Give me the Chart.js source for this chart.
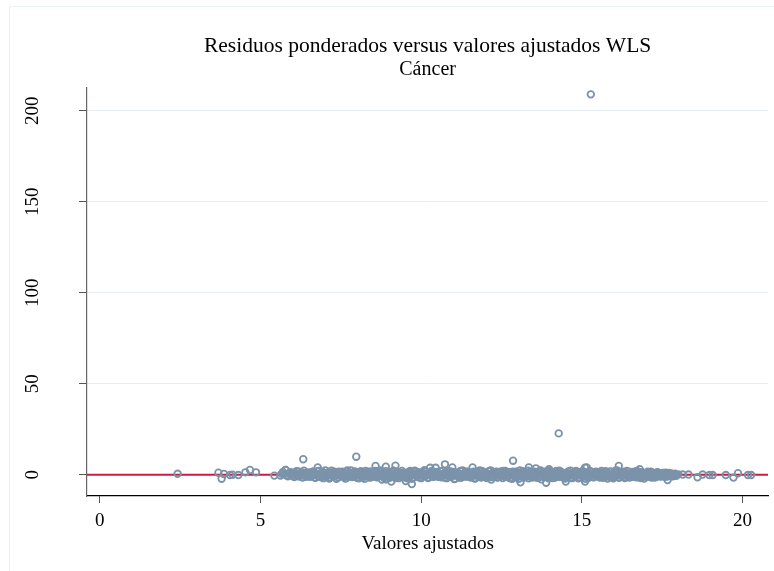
<!DOCTYPE html>
<html>
<head>
<meta charset="utf-8">
<script src="https://cdn.jsdelivr.net/npm/chart.js@4/dist/chart.umd.min.js"></script>
<style>
  html, body { margin: 0; padding: 0; background: #fff; }
  #wrap { width: 774px; height: 571px; }
</style>
</head>
<body>
<div id="wrap"><canvas id="residChart" width="774" height="571"></canvas></div>
<script>
/* Texts */
const TITLE = 'Residuos ponderados versus valores ajustados WLS';
const SUBTITLE = 'Cáncer';
const X_TITLE = 'Valores ajustados';

/* Axis ticks */
const xTicks = [0, 5, 10, 15, 20];
const yTicks = [0, 50, 100, 150, 200];

/* Reference line (yline 0) */
const refLineX = [-0.4, 20.8];
const refLineY = [0, 0];

/* Sparse points left of the main band */
const leftTailX = [2.42, 3.69, 3.79, 3.86, 4.05, 4.13, 4.31, 4.53, 4.67, 4.86, 5.43];
const leftTailY = [0.5, 1.1, -2.2, 0.4, -0.2, 0.0, -0.2, 1.3, 2.6, 1.3, -0.5];

/* Start of the band */
const bandStartX = [5.62, 5.66, 5.70, 5.74, 5.78, 5.81, 5.85, 5.90, 5.93, 5.96, 6.00, 6.02, 6.05, 6.08, 6.10, 6.12, 6.14, 6.18, 6.20,
                    6.22, 6.25, 6.27, 6.29, 6.31, 6.33, 6.35, 6.38, 6.40, 6.42, 6.44, 6.47, 6.49];
const bandStartY = [-0.4, 0.6, 1.5, 0.3, 2.6, -0.3, -0.9, 0.8, 1.4, -0.2, -0.7, 1.1, -1.3, 0.9, 0.5, 1.9, -0.6, 1.8, -1.0,
                    -0.1, 0.3, 0.9, 1.2, -1.6, -0.4, 2.2, 1.0, 0.2, -1.2, -0.8, 1.3, 0.1];

/* Main band of residuals, first group */
const bandX = [
  6.51, 6.55, 6.58, 6.62, 6.66, 6.71, 6.74, 6.78, 6.83, 6.86, 6.90, 6.95, 6.98, 7.02, 7.06, 7.11, 7.14, 7.18, 7.23, 7.26, 7.30, 7.35, 7.38, 7.42, 7.46,
  7.50, 7.55, 7.58, 7.62, 7.67, 7.70, 7.74, 7.79, 7.82, 7.86, 7.91, 7.94, 7.98, 8.03, 8.06, 8.10, 8.15, 8.18, 8.22, 8.27, 8.30, 8.34, 8.39, 8.42, 8.46,
  8.51, 8.54, 8.58, 8.63, 8.66, 8.70, 8.75, 8.78, 8.82, 8.87, 8.90, 8.94, 8.99, 9.02, 9.06, 9.11, 9.14, 9.18, 9.23, 9.26, 9.30, 9.35, 9.38, 9.42, 9.47,
  9.50, 9.54, 9.59, 9.62, 9.66, 9.71, 9.74, 9.78, 9.83, 9.86, 9.90, 9.95, 9.98, 10.02, 10.07, 10.10, 10.14, 10.19, 10.22, 10.26, 10.31, 10.34, 10.38, 10.43, 10.46,
  10.50, 10.55, 10.58, 10.62, 10.67, 10.70, 10.74, 10.79, 10.82, 10.86, 10.91, 10.94, 10.98, 11.03, 11.06, 11.10, 11.15, 11.18, 11.22, 11.27, 11.30, 11.34, 11.39, 11.42, 11.46,
  11.51, 11.54, 11.58, 11.63, 11.66, 11.70, 11.75, 11.78, 11.82, 11.87, 11.90, 11.94, 11.99, 12.02, 12.06, 12.11, 12.14, 12.18, 12.23, 12.26, 12.30, 12.35, 12.38, 12.42, 12.47,
  12.50, 12.54, 12.59, 12.62, 12.66, 12.71, 12.74, 12.78, 12.83, 12.86, 12.90, 12.95, 12.98, 13.02, 13.07, 13.10, 13.14, 13.19, 13.22, 13.26, 13.31, 13.34, 13.38, 13.43, 13.46,
  13.50, 13.55, 13.58, 13.62, 13.67, 13.70, 13.74, 13.79, 13.82, 13.86, 13.91, 13.94, 13.98, 14.03, 14.06, 14.10, 14.15, 14.18, 14.22, 14.27, 14.30, 14.34, 14.39, 14.42, 14.46,
  14.51, 14.54, 14.58, 14.63, 14.66, 14.70, 14.75, 14.78, 14.82, 14.87, 14.90, 14.94, 14.99, 15.02, 15.06, 15.11, 15.14, 15.18, 15.23, 15.26, 15.30, 15.35, 15.38, 15.42, 15.47,
  15.50, 15.54, 15.59, 15.62, 15.66, 15.71, 15.74, 15.78, 15.83, 15.86, 15.90, 15.95, 15.98, 16.02, 16.07, 16.10, 16.14, 16.19, 16.22, 16.26, 16.31, 16.34, 16.38, 16.43, 16.46,
  16.50, 16.55, 16.58, 16.62, 16.67, 16.70, 16.74, 16.79, 16.82, 16.86, 16.91, 16.94, 16.98, 17.03, 17.06, 17.10, 17.15, 17.18, 17.22, 17.27, 17.30, 17.34, 17.39, 17.42, 17.46
];
const bandY = [
  0.6, -1.2, 1.4, -0.3, 0.9, -1.7, 0.2, 1.9, -0.8, 0.4, -1.4, 1.1, -0.1, 2.4, -0.9, 0.7, -2.1, 1.3, 0.0, -1.0, 1.7, -0.5, 0.8, -1.5, 1.2,
  -0.2, 1.6, -1.1, 0.5, -1.8, 2.3, 0.3, -0.7, 1.0, -1.3, 0.1, 1.8, -0.6, 0.9, -2.0, 1.4, -0.4, 0.7, -1.2, 2.0, -0.1, 1.1, -1.6, 0.4, -0.8,
  1.3, -0.5, 2.1, -1.4, 0.6, -0.2, 1.5, -2.6, 0.8, -0.9, 1.9, -0.3, 0.4, -1.7, 1.2, -0.6, 2.2, -1.1, 0.0, 1.6, -1.9, 0.7, -0.4, 1.0, -1.3,
  0.3, -1.6, 1.2, -0.7, 2.0, -2.3, 0.5, -0.1, 1.7, -1.0, 0.9, -1.5, 0.2, 1.4, -0.8, 2.5, -0.3, 0.6, -1.8, 1.1, -0.5, 1.9, -1.2, 0.4, -0.2,
  1.5, -0.9, 0.3, -1.4, 2.2, -0.4, 1.0, -1.9, 0.6, -0.2, 1.8, -1.1, 0.1, -2.4, 1.3, -0.6, 0.8, -1.5, 2.0, -0.3, 0.5, -1.0, 1.6, -0.7, 0.2,
  -1.3, 0.9, -0.4, 1.7, -2.0, 0.4, 1.2, -0.8, 2.3, -1.6, 0.0, 1.4, -0.5, 0.7, -1.2, 1.9, -0.2, -2.7, 1.1, -0.9, 0.6, 1.6, -1.4, 0.3, -0.6,
  1.0, -1.8, 0.5, 2.1, -0.3, -1.1, 1.4, 0.2, -2.2, 0.8, -0.6, 1.7, -1.4, 0.3, 2.4, -0.9, 0.6, -1.6, 1.2, -0.1, 0.9, -2.0, 1.5, -0.4, 0.7,
  -0.8, 1.3, -1.5, 0.4, 1.9, -0.2, -2.5, 0.9, -0.7, 1.6, -1.2, 0.1, 2.0, -0.5, 1.1, -1.8, 0.6, -0.3, 1.4, -1.0, 2.2, -0.6, 0.3, -1.4, 0.8,
  0.5, -1.1, 1.8, -0.4, 0.2, -1.9, 1.3, -0.8, 2.1, -0.2, 0.7, -1.5, 1.0, -0.6, 1.6, -2.3, 0.4, 1.2, -0.9, 0.0, 1.7, -1.3, 0.6, -0.5, 1.1,
  -0.3, 1.4, -1.0, 0.8, -1.7, 0.3, 1.9, -0.6, 0.5, -1.2, 1.5, -0.1, -2.0, 1.0, -0.7, 2.3, -1.4, 0.2, 0.9, -0.4, 1.3, -1.8, 0.6, -0.9, 1.6,
  0.4, -1.3, 1.1, -0.5, 1.8, -1.0, 0.2, -1.6, 1.4, -0.3, 0.7, -2.1, 1.0, -0.8, 0.5, -1.2, 1.7, -0.4, 0.9, -1.5, 0.3, 1.2, -0.6, 0.8, -1.0
];

/* Main band of residuals, second group */
const band2X = [
  6.53, 6.57, 6.60, 6.64, 6.69, 6.72, 6.76, 6.81, 6.84, 6.88, 6.93, 6.96, 7.00, 7.04, 7.09, 7.12, 7.16, 7.21, 7.24, 7.28, 7.33, 7.36, 7.40, 7.44, 7.48,
  7.52, 7.57, 7.60, 7.64, 7.69, 7.72, 7.76, 7.81, 7.84, 7.88, 7.93, 7.96, 8.00, 8.05, 8.08, 8.12, 8.17, 8.20, 8.24, 8.29, 8.32, 8.36, 8.41, 8.44, 8.48,
  8.53, 8.56, 8.60, 8.65, 8.68, 8.72, 8.77, 8.80, 8.84, 8.89, 8.92, 8.96, 9.01, 9.04, 9.08, 9.13, 9.16, 9.20, 9.25, 9.28, 9.32, 9.37, 9.40, 9.44, 9.49,
  9.52, 9.56, 9.61, 9.64, 9.68, 9.73, 9.76, 9.80, 9.85, 9.88, 9.92, 9.97, 10.00, 10.04, 10.09, 10.12, 10.16, 10.21, 10.24, 10.28, 10.33, 10.36, 10.40, 10.45, 10.48,
  10.52, 10.57, 10.60, 10.64, 10.69, 10.72, 10.76, 10.81, 10.84, 10.88, 10.93, 10.96, 11.00, 11.05, 11.08, 11.12, 11.17, 11.20, 11.24, 11.29, 11.32, 11.36, 11.41, 11.44, 11.48,
  11.53, 11.56, 11.60, 11.65, 11.68, 11.72, 11.77, 11.80, 11.84, 11.89, 11.92, 11.96, 12.01, 12.04, 12.08, 12.13, 12.16, 12.20, 12.25, 12.28, 12.32, 12.37, 12.40, 12.44, 12.49,
  12.52, 12.56, 12.61, 12.64, 12.68, 12.73, 12.76, 12.80, 12.85, 12.88, 12.92, 12.97, 13.00, 13.04, 13.09, 13.12, 13.16, 13.21, 13.24, 13.28, 13.33, 13.36, 13.40, 13.45, 13.48,
  13.52, 13.57, 13.60, 13.64, 13.69, 13.72, 13.76, 13.81, 13.84, 13.88, 13.93, 13.96, 14.00, 14.05, 14.08, 14.12, 14.17, 14.20, 14.24, 14.29, 14.32, 14.36, 14.41, 14.44, 14.48,
  14.53, 14.56, 14.60, 14.65, 14.68, 14.72, 14.77, 14.80, 14.84, 14.89, 14.92, 14.96, 15.01, 15.04, 15.08, 15.13, 15.16, 15.20, 15.25, 15.28, 15.32, 15.37, 15.40, 15.44, 15.49,
  15.52, 15.56, 15.61, 15.64, 15.68, 15.73, 15.76, 15.80, 15.85, 15.88, 15.92, 15.97, 16.00, 16.04, 16.09, 16.12, 16.16, 16.21, 16.24, 16.28, 16.33, 16.36, 16.40, 16.45, 16.48,
  16.52, 16.57, 16.60, 16.64, 16.69, 16.72, 16.76, 16.81, 16.84, 16.88, 16.93, 16.96, 17.00, 17.05, 17.08, 17.12, 17.17, 17.20, 17.24, 17.29, 17.32, 17.36, 17.41, 17.44, 17.48
];
const band2Y = [
  -0.9, 1.1, -0.2, 1.8, -1.5, 0.6, -0.4, 2.1, -1.1, 0.3, 1.5, -1.9, 0.8, -0.6, 1.2, -0.1, -1.4, 2.2, 0.5, -0.8, 1.0, -2.2, 0.2, 1.6, -0.3,
  1.2, -0.4, 0.7, -2.1, 1.5, -0.9, 0.1, 2.4, -1.2, 0.6, -0.3, 1.3, -1.7, 0.9, -0.5, 1.9, -1.0, 0.4, -2.3, 1.1, 0.0, -0.7, 1.8, -1.4, 0.5,
  -0.6, 1.7, -1.3, 0.2, -0.8, 2.3, -0.2, 1.0, -1.6, 0.5, -2.4, 1.4, -0.4, 0.8, -1.1, 2.0, 0.1, -1.8, 1.2, -0.5, 0.7, -1.2, 2.1, -0.9, 0.3,
  1.0, -2.0, 0.4, 1.6, -0.6, 0.9, -1.4, 2.2, -0.3, -1.1, 1.3, 0.2, -1.9, 0.7, 1.8, -0.8, 0.3, -1.5, 1.1, -0.1, 2.0, -1.2, 0.6, -0.4, 1.4,
  -1.1, 0.5, 1.9, -0.7, 0.2, -1.6, 1.2, -0.3, 2.1, -1.3, 0.8, -0.5, 1.5, -2.2, 0.4, 1.0, -0.9, 0.1, -1.7, 2.3, -0.2, 0.9, -1.0, 1.7, -0.6,
  0.7, -1.5, 1.3, -0.1, -2.1, 1.6, -0.8, 0.5, -1.2, 2.0, 0.3, -0.9, 1.1, -1.8, 0.6, -0.4, 2.4, -1.3, 0.2, 1.5, -0.7, -1.6, 0.9, -0.2, 1.8,
  -0.4, 2.0, -1.2, 0.8, 1.4, -0.5, -1.9, 0.6, 1.7, -0.2, -1.4, 1.0, 0.3, -2.3, 1.2, -0.7, 1.9, -0.1, -1.1, 0.5, 2.2, -0.9, 0.1, -1.6, 1.3,
  1.6, -0.7, 0.3, -1.7, 1.1, 2.3, -0.4, -1.3, 0.7, -0.1, 1.8, -2.0, 0.5, 1.3, -0.9, 0.2, -1.5, 2.1, -0.3, 0.9, -1.1, 1.5, -0.6, 0.4, -2.1,
  -1.0, 0.8, -0.3, 2.2, -1.4, 0.6, -0.7, 1.5, 0.0, -2.0, 1.2, -0.5, 1.9, -1.2, 0.4, -0.2, 1.1, -1.8, 2.0, -0.6, 0.7, -1.4, 0.3, 1.6, -0.9,
  0.9, -1.6, 2.0, -0.2, 0.6, -1.1, 1.4, -2.1, 0.3, 1.8, -0.8, 0.5, -1.3, 2.2, -0.4, 1.0, -1.7, 0.1, -0.6, 1.6, -1.2, 0.8, 2.1, -0.3, -1.5,
  -0.7, 1.5, -0.2, 0.9, -1.4, 2.0, -0.9, 0.4, -1.8, 1.2, -0.1, 0.7, -1.1, 1.7, -0.5, 0.3, -1.6, 1.1, -0.3, 0.6, -1.2, 1.4, -0.8, 0.5, -0.4
];

/* End of the band */
const bandEndX = [17.50, 17.52, 17.54, 17.56, 17.58, 17.61, 17.63, 17.65, 17.67, 17.69, 17.71, 17.74, 17.76, 17.78, 17.80, 17.83,
                  17.85, 17.88, 17.90, 17.93, 17.95, 18.00];
const bandEndY = [-0.6, 0.9, 0.8, -0.4, -1.2, 1.1, 0.4, -1.0, -0.2, 0.5, 1.0, -0.3, -0.8, 0.7, 0.3, -0.9,
                  -0.5, 0.2, 0.6, -0.6, -0.3, 0.2];

/* Sparse points right of the band */
const rightTailX = [18.14, 18.32, 18.60, 18.76, 18.97, 19.07, 19.48, 19.72, 19.86, 20.17, 20.27];
const rightTailY = [0.1, 0.1, -1.4, 0.1, -0.2, -0.2, -0.2, -1.6, 0.8, -0.2, -0.2];

/* Larger residuals above / below the band */
const spreadX = [5.78, 6.33, 6.78, 7.98, 8.58, 8.90, 9.20, 10.28, 10.45, 10.74, 10.97, 11.60, 12.86, 13.35, 13.57, 13.98, 15.10, 15.15, 16.15, 16.80,
                 8.90, 9.07, 9.52, 9.71, 13.09, 13.89, 14.50, 15.10, 17.67];
const spreadY = [2.6, 8.5, 4.0, 9.9, 4.8, 4.4, 5.0, 3.8, 3.8, 5.7, 4.0, 4.0, 7.7, 4.0, 3.5, 3.0, 3.9, 4.0, 4.8, 3.0,
                 -2.5, -3.8, -3.5, -5.1, -4.2, -4.4, -3.8, -3.8, -2.9];

/* Outliers */
const outlierX = [14.28, 15.28];
const outlierY = [22.7, 209];

/* Build point list for the scatter */
function toPoints(xs, ys) {
    return xs.map((x, i) => ({ x: x, y: ys[i] }));
}

const scatterPoints = [].concat(
    toPoints(leftTailX, leftTailY),
    toPoints(bandStartX, bandStartY),
    toPoints(bandX, bandY),
    toPoints(band2X, band2Y),
    toPoints(bandEndX, bandEndY),
    toPoints(rightTailX, rightTailY),
    toPoints(spreadX, spreadY),
    toPoints(outlierX, outlierY)
);

const SERIF = "'Liberation Serif', 'Times New Roman', serif";
const MARKER = '#7b93aa';

/* Plugin: outer frame, titles and rotated y labels */
const decorPlugin = {
    id: 'decor',
    beforeDraw(chart) {
        const ctx = chart.ctx;
        ctx.save();
        ctx.fillStyle = '#fff';
        ctx.fillRect(0, 0, chart.width, chart.height);
        ctx.strokeStyle = '#eaf1f3';
        ctx.lineWidth = 1;
        ctx.beginPath();
        ctx.moveTo(9.5, chart.height);
        ctx.lineTo(9.5, 6.5);
        ctx.lineTo(chart.width, 6.5);
        ctx.stroke();
        ctx.restore();
    },
    afterDraw(chart) {
        const ctx = chart.ctx;
        const area = chart.chartArea;
        const cx = (area.left + area.right) / 2;
        ctx.save();
        ctx.fillStyle = '#000';
        ctx.textAlign = 'center';
        ctx.textBaseline = 'alphabetic';
        ctx.font = '21.5px ' + SERIF;
        ctx.fillText(TITLE, cx, 52);
        ctx.font = '20px ' + SERIF;
        ctx.fillText(SUBTITLE, cx, 75);

        /* y tick labels, rotated like the original */
        const ys = chart.scales.y;
        ctx.font = '19px ' + SERIF;
        ctx.textBaseline = 'middle';
        yTicks.forEach(v => {
            const py = ys.getPixelForValue(v);
            ctx.save();
            ctx.translate(33, py);
            ctx.rotate(-Math.PI / 2);
            ctx.fillText(String(v), 0, 0);
            ctx.restore();
        });
        ctx.restore();
    }
};

const config = {
    type: 'scatter',
    data: {
        datasets: [{
            type: 'line',
            label: 'yline',
            data: toPoints(refLineX, refLineY),
            borderColor: '#cf1a3e',
            borderWidth: 2,
            pointRadius: 0,
            fill: false,
            order: 2
        }, {
            label: 'Residuos',
            data: scatterPoints,
            pointStyle: 'circle',
            pointRadius: 3.3,
            borderWidth: 1.8,
            borderColor: MARKER,
            backgroundColor: 'rgba(0,0,0,0)',
            order: 1
        }]
    },
    options: {
        responsive: false,
        animation: false,
        layout: { padding: { top: 88, right: 3, left: 0, bottom: 16 } },
        plugins: {
            legend: { display: false },
            tooltip: { enabled: false },
            title: { display: false }
        },
        scales: {
            x: {
                type: 'linear',
                min: -0.4,
                max: 20.8,
                afterBuildTicks: (scale) => { scale.ticks = xTicks.map(v => ({ value: v })); },
                afterFit: (scale) => { scale.height = 59; },
                grid: { drawOnChartArea: false, tickLength: 7, tickColor: '#555', tickWidth: 1 },
                border: { color: '#000', width: 1.2 },
                ticks: {
                    color: '#000',
                    font: { family: SERIF, size: 19 },
                    padding: 7,
                    maxRotation: 0
                },
                title: {
                    display: true,
                    text: X_TITLE,
                    color: '#000',
                    font: { family: SERIF, size: 19 },
                    padding: { top: 0, bottom: 0 }
                }
            },
            y: {
                type: 'linear',
                min: -11.7,
                max: 212.5,
                afterBuildTicks: (scale) => { scale.ticks = yTicks.map(v => ({ value: v })); },
                afterFit: (scale) => { scale.width = 87; },
                grid: {
                    color: (c) => (c.tick && c.tick.value === 0) ? 'rgba(0,0,0,0)' : '#e6eef1',
                    tickColor: '#555',
                    tickLength: 8,
                    lineWidth: 1
                },
                border: { color: '#666', width: 1.2 },
                ticks: { display: false }
            }
        }
    },
    plugins: [decorPlugin]
};

const residChart = new Chart(document.getElementById('residChart'), config);
</script>
</body>
</html>
